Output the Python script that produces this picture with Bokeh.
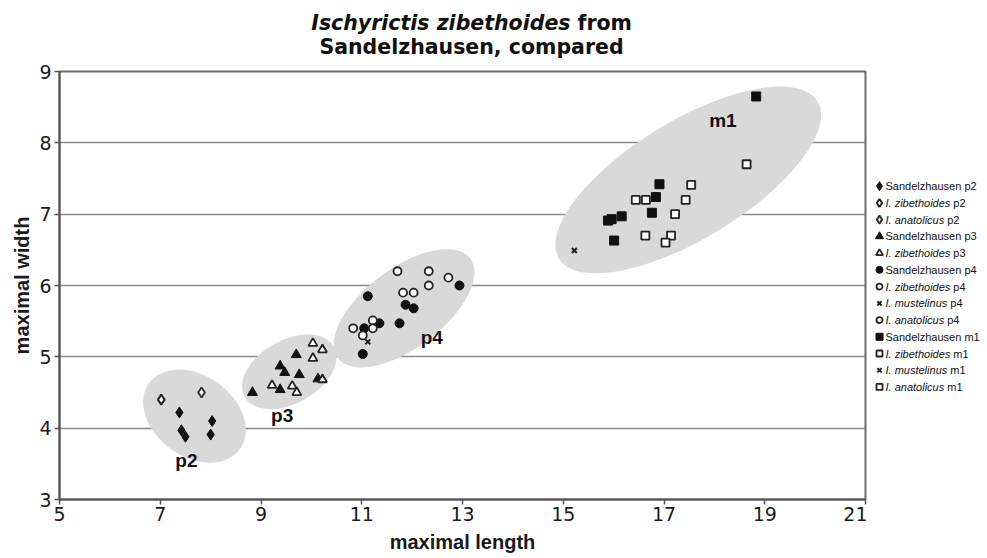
from bokeh.plotting import figure
from bokeh.models import FixedTicker, Range1d
from bokeh.layouts import column, row
from bokeh.embed import file_html
from bokeh.resources import INLINE
from bokeh.core.properties import value

# ---------------- data ----------------
x_ticks = [5, 7, 9, 11, 13, 15, 17, 19, 21]
y_ticks = [3, 4, 5, 6, 7, 8, 9]

sand_p2_x = [7.38, 8.03, 7.42, 7.50, 8.00]
sand_p2_y = [4.22, 4.10, 3.97, 3.88, 3.91]
zib_p2_x = [7.02]
zib_p2_y = [4.40]
ana_p2_x = [7.82]
ana_p2_y = [4.50]

sand_p3_x = [9.70, 9.38, 9.47, 9.76, 10.13, 9.38, 8.83]
sand_p3_y = [5.03, 4.87, 4.78, 4.75, 4.69, 4.54, 4.50]
zib_p3_x = [10.03, 10.22, 10.03, 9.22, 9.62, 9.71, 10.22]
zib_p3_y = [5.19, 5.10, 4.98, 4.60, 4.59, 4.50, 4.68]

sand_p4_x = [12.94, 11.12, 11.87, 12.03, 11.35, 11.75, 11.05, 11.02]
sand_p4_y = [6.00, 5.85, 5.73, 5.68, 5.47, 5.47, 5.40, 5.04]
zib_p4_x = [11.71, 12.33, 12.72, 12.33, 11.82, 12.03, 11.22, 10.83, 11.22]
zib_p4_y = [6.20, 6.20, 6.11, 6.00, 5.90, 5.90, 5.51, 5.40, 5.40]
mus_p4_x = [11.12]
mus_p4_y = [5.21]
ana_p4_x = [11.02]
ana_p4_y = [5.30]

sand_m1_x = [18.83, 16.91, 16.84, 16.76, 16.16, 15.96, 15.89, 16.01]
sand_m1_y = [8.65, 7.42, 7.24, 7.02, 6.97, 6.93, 6.91, 6.63]
zib_m1_x = [18.64, 17.54, 16.44, 16.64, 17.43, 17.22, 16.63, 17.14]
zib_m1_y = [7.70, 7.41, 7.20, 7.20, 7.20, 7.00, 6.70, 6.70]
mus_m1_x = [15.22]
mus_m1_y = [6.49]
ana_m1_x = [17.03]
ana_m1_y = [6.60]

legend_labels = [
    "Sandelzhausen p2", "I. zibethoides p2", "I. anatolicus p2",
    "Sandelzhausen p3", "I. zibethoides p3",
    "Sandelzhausen p4", "I. zibethoides p4", "I. mustelinus p4", "I. anatolicus p4",
    "Sandelzhausen m1", "I. zibethoides m1", "I. mustelinus m1", "I. anatolicus m1",
]

# grouping ellipses (tooth position clusters)
group_names = ["p2", "p3", "p4", "m1"]
ell_x = [7.68, 9.56, 11.84, 17.48]
ell_y = [4.17, 4.79, 5.68, 7.48]
ell_w = [2.23, 2.03, 3.29, 6.01]
ell_h = [1.14, 0.89, 1.12, 1.655]
ell_angle = [-36, 29.4, 37, 31.3]
lab_x = [7.52, 9.42, 12.39, 18.17]
lab_y = [3.55, 4.18, 5.27, 8.32]

# ---------------- styles ----------------
BLACK = "#111111"
filled = dict(fill_color=BLACK, line_color=BLACK)
hollow = dict(fill_color="white", line_color="#222222", line_width=1.8)
series = [
    (sand_p2_x, sand_p2_y, dict(marker="diamond", size=11, **filled)),
    (zib_p2_x, zib_p2_y, dict(marker="diamond", size=10, fill_color="white", line_color="#222222", line_width=2)),
    (ana_p2_x, ana_p2_y, dict(marker="diamond", size=10, fill_color="white", line_color="#333333", line_width=2)),
    (sand_p3_x, sand_p3_y, dict(marker="triangle", size=10, **filled)),
    (zib_p3_x, zib_p3_y, dict(marker="triangle", size=9, **hollow)),
    (sand_p4_x, sand_p4_y, dict(marker="circle", size=9, **filled)),
    (zib_p4_x, zib_p4_y, dict(marker="circle", size=8, **hollow)),
    (mus_p4_x, mus_p4_y, dict(marker="x", size=7, line_color="#222222", line_width=2)),
    (ana_p4_x, ana_p4_y, dict(marker="circle", size=8, **hollow)),
    (sand_m1_x, sand_m1_y, dict(marker="square", size=9, **filled)),
    (zib_m1_x, zib_m1_y, dict(marker="square", size=8, **hollow)),
    (mus_m1_x, mus_m1_y, dict(marker="x", size=7, line_color="#222222", line_width=2)),
    (ana_m1_x, ana_m1_y, dict(marker="square", size=8, **hollow)),
]

# ---------------- main figure ----------------
MAIN_H, TOP_B, BOT_B = 499, 13, 58
p = figure(width=867, height=MAIN_H, x_range=Range1d(5, 21), y_range=Range1d(3, 9),
           output_backend="svg", toolbar_location=None,
           min_border_left=59, min_border_right=2, min_border_top=TOP_B, min_border_bottom=BOT_B)
p.background_fill_color = "white"
p.border_fill_color = "white"
p.outline_line_color = "#6a6a6a"
p.outline_line_width = 2

p.xgrid.visible = False
p.ygrid.grid_line_color = "#8c8c8c"
p.ygrid.grid_line_width = 1.5

p.xaxis.ticker = FixedTicker(ticks=x_ticks)
p.yaxis.ticker = FixedTicker(ticks=y_ticks)
for ax in (p.xaxis[0], p.yaxis[0]):
    ax.axis_line_color = "#555555"
    ax.axis_line_width = 2
    ax.major_tick_line_color = "#555555"
    ax.major_tick_line_width = 1.5
    ax.major_tick_out = 5
    ax.major_tick_in = 0
    ax.minor_tick_line_color = None
    ax.major_label_text_font = "DejaVu Sans"
    ax.major_label_text_font_size = "19px"
    ax.major_label_text_color = "#1a1a1a"
    ax.axis_label_text_font = "Liberation Sans"
    ax.axis_label_text_font_size = "20px"
    ax.axis_label_text_font_style = "bold"
    ax.axis_label_text_color = "#1a1a1a"

p.xaxis.axis_label = "maximal length"
p.yaxis.axis_label = "maximal width"
p.xaxis.major_label_standoff = 2
p.xaxis.axis_label_standoff = 7
p.yaxis.major_label_standoff = 3
p.yaxis.axis_label_standoff = 3

p.ellipse(x=ell_x, y=ell_y, width=ell_w, height=ell_h, angle=ell_angle, angle_units="deg",
          fill_color="#d9d9d9", line_color=None)

p.text(x=lab_x, y=lab_y, text=group_names, text_align="center", text_baseline="middle",
       text_font=value("Liberation Sans"), text_font_style="bold", text_font_size="19px",
       text_color=BLACK)

for xs, ys, st in series:
    p.scatter(xs, ys, **st)

# ---------------- legend panel (frame aligned with the main frame) ----------------
LEG_W = 119
FRAME_H = MAIN_H - TOP_B - BOT_B
leg = figure(width=LEG_W, height=MAIN_H, x_range=Range1d(0, LEG_W), y_range=Range1d(FRAME_H, 0),
             output_backend="svg", toolbar_location=None, x_axis_type=None, y_axis_type=None,
             min_border_left=0, min_border_right=0, min_border_top=TOP_B, min_border_bottom=BOT_B)
leg.grid.visible = False
leg.outline_line_color = None
leg.background_fill_color = "white"
leg.border_fill_color = "white"

# Arial advance widths (1/1000 em) for placing the upright suffix after italic names
ARIAL_W = {'I': 278, '.': 278, ' ': 278, 'z': 500, 'i': 222, 'b': 556, 'e': 556, 't': 278,
           'h': 556, 'o': 556, 'd': 556, 's': 500, 'a': 556, 'n': 556, 'l': 222, 'c': 500,
           'u': 556, 'm': 833}
LEG_FS = 11
row_top, row_step = 114.7, 16.73
mark_x, text_x = 12, 18
for i, (lab, (_, _, st)) in enumerate(zip(legend_labels, series)):
    yy = row_top + i * row_step
    small = dict(st)
    small["size"] = max(6, st["size"] - 2)
    leg.scatter([mark_x], [yy], **small)
    if lab.startswith("I. "):
        name, suffix = lab.rsplit(" ", 1)
        leg.text(x=[text_x], y=[yy], text=[name], text_baseline="middle", text_align="left",
                 text_font=value("Liberation Sans"), text_font_style="italic",
                 text_font_size=f"{LEG_FS}px", text_color=BLACK)
        w = sum(ARIAL_W.get(c, 556) for c in name + " ") / 1000 * LEG_FS
        leg.text(x=[text_x + w], y=[yy], text=[suffix], text_baseline="middle", text_align="left",
                 text_font=value("Liberation Sans"), text_font_size=f"{LEG_FS}px", text_color=BLACK)
    else:
        leg.text(x=[text_x], y=[yy], text=[lab], text_baseline="middle", text_align="left",
                 text_font=value("Liberation Sans"), text_font_size=f"{LEG_FS}px", text_color=BLACK)

# ---------------- title panel ----------------
T_W, T_H = 986, 58
tt = figure(width=T_W, height=T_H, x_range=Range1d(0, T_W), y_range=Range1d(T_H, 0),
            output_backend="svg", toolbar_location=None, x_axis_type=None, y_axis_type=None,
            min_border=0)
tt.grid.visible = False
tt.outline_line_color = None
tt.background_fill_color = "white"
tt.border_fill_color = "white"
TFS = "20.5px"
tt.text(x=[570], y=[22], text=["Ischyrictis zibethoides"], text_align="right", text_baseline="alphabetic",
        text_font=value("DejaVu Sans"), text_font_style="bold italic", text_font_size=TFS, text_color=BLACK)
tt.text(x=[577], y=[22], text=["from"], text_align="left", text_baseline="alphabetic",
        text_font=value("DejaVu Sans"), text_font_style="bold", text_font_size=TFS, text_color=BLACK)
tt.text(x=[471], y=[46], text=["Sandelzhausen, compared"], text_align="center", text_baseline="alphabetic",
        text_font=value("DejaVu Sans"), text_font_style="bold", text_font_size=TFS, text_color=BLACK)

layout = column(tt, row(p, leg))
open("out.html", "w").write(file_html(layout, INLINE))
